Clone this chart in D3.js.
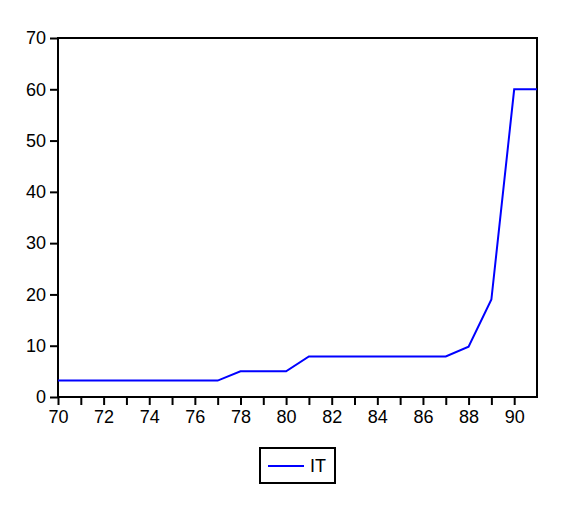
<!DOCTYPE html>
<html><head><meta charset="utf-8">
<script src="https://cdn.jsdelivr.net/npm/d3@7"></script>
<style>body{margin:0;background:#fff;}svg{display:block;font-family:"Liberation Sans",Arial,sans-serif;}</style>
</head><body><div id="chart"></div>
<script>
const years = [70,71,72,73,74,75,76,77,78,79,80,81,82,83,84,85,86,87,88,89,90,91];
const itValues = [3.2,3.2,3.2,3.2,3.2,3.2,3.2,3.2,5,5,5,7.9,7.9,7.9,7.9,7.9,7.9,7.9,9.8,19,60,60];
const yTicks = [0,10,20,30,40,50,60,70];
const xTickLabels = [70,72,74,76,78,80,82,84,86,88,90];
const seriesName = "IT";

const W = 587, H = 512;
const m = {left:58, right:50, top:38, bottom:115};
const svg = d3.select("#chart").append("svg").attr("width",W).attr("height",H);
const x = d3.scaleLinear().domain([70,91]).range([m.left, W-m.right]);
const y = d3.scaleLinear().domain([0,70]).range([H-m.bottom, m.top]);

// frame
svg.append("rect").attr("x",x(70)).attr("y",y(70)).attr("width",x(91)-x(70)).attr("height",y(0)-y(70))
  .attr("fill","none").attr("stroke","#000").attr("stroke-width",2);

const xAxis = svg.append("g").attr("transform",`translate(0,${y(0)})`)
  .call(d3.axisBottom(x).tickValues(years.slice(0,21)).tickSize(8).tickPadding(5)
    .tickFormat(d => xTickLabels.includes(d) ? d : ""));
const yAxis = svg.append("g").attr("transform",`translate(${x(70)},0)`)
  .call(d3.axisLeft(y).tickValues(yTicks).tickSize(8).tickPadding(4));
[xAxis,yAxis].forEach(g=>{
  g.select(".domain").remove();
  g.selectAll(".tick line").attr("stroke","#000").attr("stroke-width",2);
  g.selectAll("text").attr("fill","#000").style("font-size","18px").style("font-family","'Liberation Sans',Arial,sans-serif");
});

svg.append("path").datum(years.map((d,i)=>[d,itValues[i]]))
  .attr("fill","none").attr("stroke","#0000ff").attr("stroke-width",2)
  .attr("d", d3.line().x(d=>x(d[0])).y(d=>y(d[1])));

// legend
const lg = svg.append("g");
lg.append("rect").attr("x",260).attr("y",448).attr("width",75).attr("height",35)
  .attr("fill","#fff").attr("stroke","#000").attr("stroke-width",2);
lg.append("line").attr("x1",268).attr("x2",304).attr("y1",466).attr("y2",466).attr("stroke","#0000ff").attr("stroke-width",2);
lg.append("text").attr("x",310).attr("y",472).style("font-size","18px").attr("fill","#000").text(seriesName);
</script></body></html>
